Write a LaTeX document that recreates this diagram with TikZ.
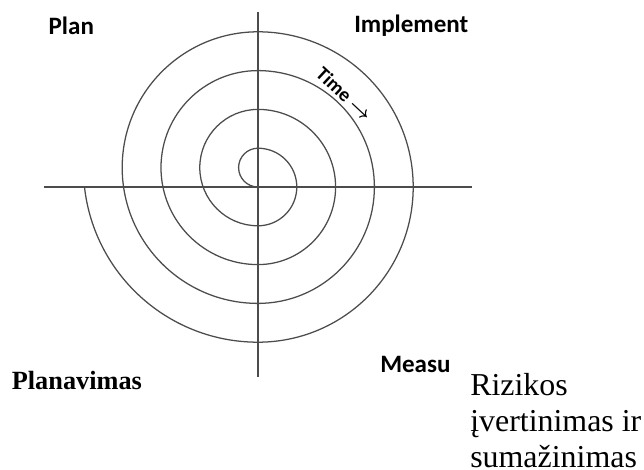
\documentclass[tikz,border=0pt]{standalone}
\usepackage{fontspec}
\setmainfont{Liberation Serif}
\newfontfamily\calibri{Carlito}
\usepackage{amsmath}

\begin{document}
\begin{tikzpicture}
\tikzset{axis/.style={black!70, line width=0.9pt},
  spiral/.style={black!70, line width=0.9pt},
  phase/.style={font=\calibri\bfseries\fontsize{17.8}{20}\selectfont, inner sep=0pt, anchor=base west}}
\useasboundingbox (-6.45,-7.075) rectangle (9.65,4.675);

%axes
\draw [axis] (-5.35,0)--(5.35,0);
\draw [axis] (0,4.38)--(0,-4.75);

%spiral
\draw [spiral] (0,0) arc[start angle=-90, end angle=-270, radius=0.485]
  arc[start angle=90, end angle=-90, radius=0.97]
  arc[start angle=-90, end angle=-270, radius=1.455]
  arc[start angle=90, end angle=-90, radius=1.94]
  arc[start angle=-90, end angle=-270, radius=2.425]
  arc[start angle=90, end angle=-90, radius=2.91]
  arc[start angle=-90, end angle=-270, radius=3.395]
  arc[start angle=90, end angle=-90, radius=3.88]
  arc[start angle=-90, end angle=-173.6, radius=4.365];

\node (time) [rotate=-43, inner sep=0pt, font=\calibri\bfseries\fontsize{14}{16}\selectfont] at (47:3.17) {Time $\boldsymbol{\to}$};

\node (plan) [phase] at (-5.24,3.82) {Plan};
\node (impl) [phase] at (2.4,3.87) {Implement};
\node (meas) [phase] at (3.05,-4.63) {Measu};

\node (planav) [anchor=base west, inner sep=0pt, font=\bfseries\fontsize{18.7}{21}\selectfont] at (-6.16,-5.06) {Planavimas};
\node (rizik) [anchor=base west, inner sep=0pt, align=left, font=\fontsize{22.7}{25.6}\selectfont] at (5.3,-7.0) {Rizikos\\įvertinimas ir\\sumažinimas};
\end{tikzpicture}
\end{document}
